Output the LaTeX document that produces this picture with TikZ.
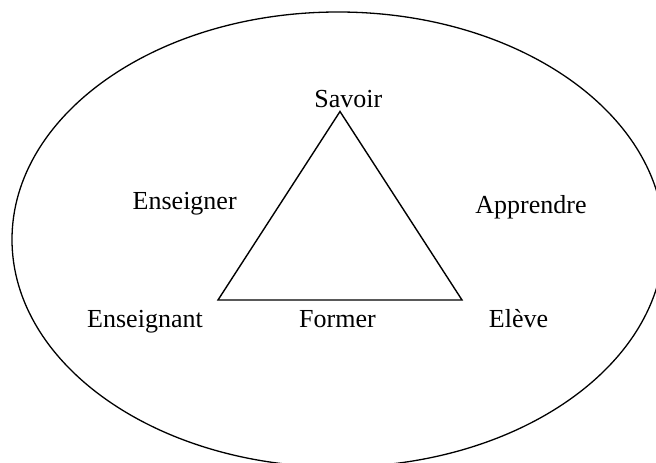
\documentclass[tikz,border=0pt]{standalone}
\usepackage{fontspec}
\setmainfont{Liberation Serif}

\tikzset{
  lbl/.style={font=\fontsize{26}{30}\selectfont, inner sep=0pt, anchor=base},
  edge/.style={line width=1.4pt, line join=miter},
}

\begin{document}
\begin{tikzpicture}[x = {(1pt,0pt)},
  y = {(0pt,-1pt)}]

  % frame of the picture
  \useasboundingbox (0,0) rectangle (656,463);

  % ellipse (cut at the border)
  \def\ecx{338}
  \def\ecy{239.5}
  \begin{scope}
  \clip (0,0) rectangle (656,463);
  \draw[line width=1.3pt] (\ecx,\ecy) ellipse [x radius=326, y radius=227.5];
  \end{scope}

  % triangle corners
  \coordinate (top)   at (340,111.5);
  \coordinate (left)  at (218,300);
  \coordinate (right) at (462,300);

  \draw[edge] (top) -- (left) -- (right) -- cycle;

  % labels
  \node[lbl] (savoir)     at (348.4,107.3) {Savoir};
  \node[lbl] (enseigner)  at (184.7,209.3) {Enseigner};
  \node[lbl] (apprendre)  at (531,213.3)   {Apprendre};
  \node[lbl] (enseignant) at (145,327.3)   {Enseignant};
  \node[lbl] (former)     at (337.5,327.3) {Former};
  \node[lbl] (eleve)      at (518.5,327.3) {Elève};

\end{tikzpicture}
\end{document}
